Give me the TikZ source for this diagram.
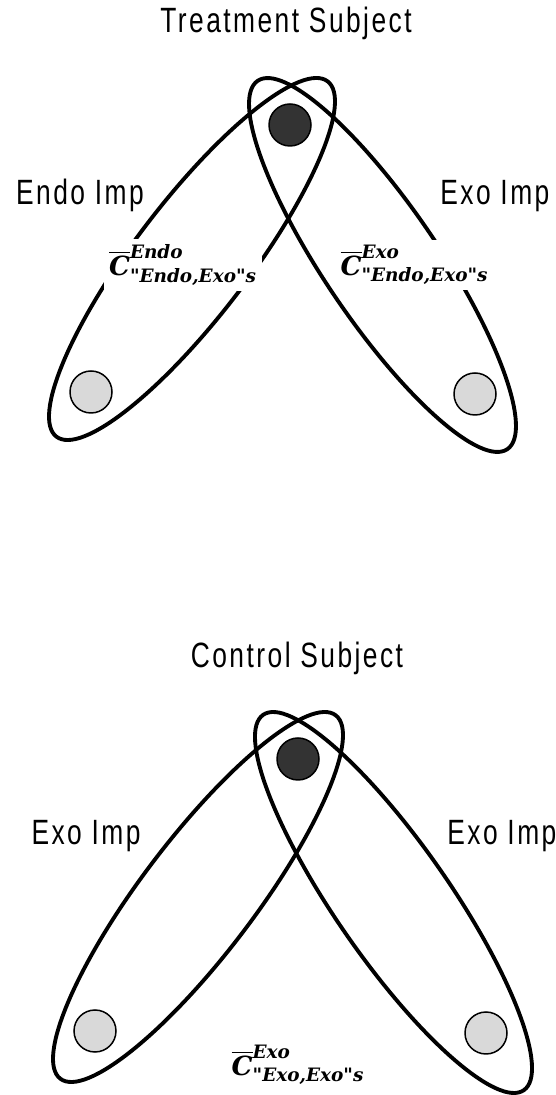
\documentclass[tikz,border=0pt]{standalone}
\usepackage{amsmath}
\usepackage{fontspec}
\newfontfamily\impfont[FakeStretch=0.75,LetterSpace=7]{Liberation Sans}
\newfontfamily\clblfont{DejaVu Serif}

\newcommand{\cmean}[2]{$\overline{\text{\clblfont\bfseries\itshape C}}^{\text{\clblfont\bfseries\itshape #1}}_{\text{\clblfont\bfseries\itshape #2}}$}

\tikzset{
  impline/.style={line width=2.2pt},
  darkdot/.style={circle,draw,line width=0.85pt,fill=black!80,minimum size=0.84cm,inner sep=0pt},
  greydot/.style={circle,draw,line width=0.85pt,fill=black!15,minimum size=0.84cm,inner sep=0pt},
  subjtitle/.style={font=\impfont\fontsize{20}{22}\selectfont,inner sep=0pt,anchor=base},
  implabel/.style={font=\impfont\fontsize{20}{22}\selectfont,inner sep=0pt,anchor=base},
  clabel/.style={fill=white,inner sep=3pt,font=\fontsize{15}{17}\selectfont}
}

\begin{document}
\begin{tikzpicture}[scale=1]
\useasboundingbox (0,0) rectangle (11.12,21.9);

% Treatment subject
\node[subjtitle] (ttitle) at (5.72,21.24) {Treatment Subject};

\draw[impline, rotate around={52.65:(3.84,16.72)}] (3.84,16.72) ellipse (4.47 and 1.14);
\draw[impline, rotate around={-55.87:(7.65,16.60)}] (7.65,16.60) ellipse (4.45 and 1.14);

\node[darkdot] (tdark) at (5.80,19.40) {};
\node[greydot] (tleft) at (1.82,14.06) {};
\node[greydot] (tright) at (9.50,14.02) {};

\node[implabel] (tendo) at (1.60,17.80) {Endo Imp};
\node[implabel,anchor=base west] (texo) at (8.80,17.80) {Exo Imp};

\node[clabel] (tcendo) at (3.66,16.60) {\cmean{Endo}{\textquotedbl Endo,Exo\textquotedbl s}};
\node[clabel] (tcexo) at (8.29,16.60) {\cmean{Exo}{\textquotedbl Endo,Exo\textquotedbl s}};

% Control subject
\node[subjtitle] (ctitle) at (5.94,8.54) {Control Subject};

\draw[impline, rotate around={52.86:(3.96,3.96)}] (3.96,3.96) ellipse (4.56 and 1.14);
\draw[impline, rotate around={-55.22:(7.87,3.85)}] (7.87,3.85) ellipse (4.57 and 1.14);

\node[darkdot] (cdark) at (5.96,6.72) {};
\node[greydot] (cleft) at (1.90,1.28) {};
\node[greydot] (cright) at (9.72,1.24) {};

\node[implabel] (cexol) at (1.72,5.00) {Exo Imp};
\node[implabel,anchor=base west] (cexor) at (8.94,5.00) {Exo Imp};

\node[clabel] (ccexo) at (5.96,0.60) {\cmean{Exo}{\textquotedbl Exo,Exo\textquotedbl s}};

\end{tikzpicture}
\end{document}
